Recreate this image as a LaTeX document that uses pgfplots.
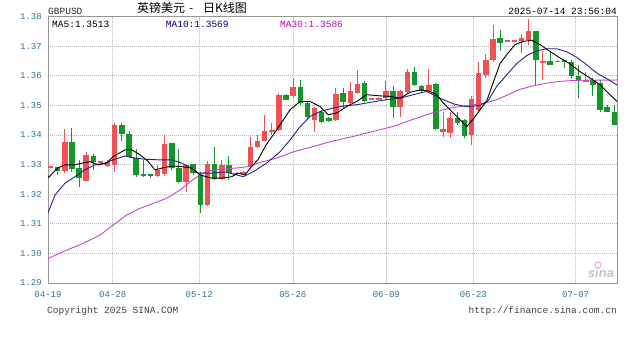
\documentclass[border=0pt]{standalone}
\usepackage{fontspec}
\usepackage{pgfplots}
\pgfplotsset{compat=1.18}
\usepackage{pgfplotstable}
\setmainfont{Liberation Sans}
\setsansfont{Liberation Sans}
\setmonofont{Liberation Mono}
\newfontfamily\cjk{Noto Sans CJK SC}

\definecolor{upred}{RGB}{238,82,82}
\definecolor{downgreen}{RGB}{20,150,40}
\definecolor{maten}{RGB}{35,35,140}
\definecolor{mathirty}{RGB}{200,70,210}
\definecolor{labthirty}{RGB}{204,0,204}
\definecolor{labten}{RGB}{0,0,128}
\definecolor{tickblue}{RGB}{50,115,150}
\definecolor{gridgray}{RGB}{185,185,185}
\definecolor{bordergray}{RGB}{150,150,150}

% up (red) candles: index open high low close
\pgfplotstableread{
k o h l c
0 1.3291 1.3296 1.3288 1.3293
2 1.3279 1.3421 1.3271 1.3376
5 1.3246 1.3344 1.3245 1.3333
7 1.3308 1.3313 1.3305 1.3310
8 1.3296 1.3314 1.3293 1.3310
9 1.3299 1.3442 1.3276 1.3434
15 1.3262 1.3299 1.3259 1.3282
16 1.3267 1.3400 1.3262 1.3369
19 1.3242 1.3300 1.3209 1.3299
22 1.3163 1.3313 1.3161 1.3302
24 1.3251 1.3316 1.3249 1.3299
26 1.3268 1.3275 1.3265 1.3272
27 1.3270 1.3280 1.3266 1.3274
28 1.3295 1.3394 1.3292 1.3360
29 1.3358 1.3400 1.3356 1.3380
30 1.3380 1.3468 1.3378 1.3414
31 1.3412 1.3440 1.3400 1.3415
32 1.3417 1.3541 1.3414 1.3536
34 1.3530 1.3594 1.3524 1.3562
37 1.3451 1.3496 1.3411 1.3491
40 1.3451 1.3558 1.3448 1.3538
42 1.3508 1.3579 1.3504 1.3547
43 1.3541 1.3620 1.3538 1.3572
45 1.3520 1.3524 1.3518 1.3522
46 1.3519 1.3528 1.3517 1.3526
47 1.3526 1.3581 1.3519 1.3549
49 1.3496 1.3553 1.3462 1.3547
50 1.3545 1.3624 1.3541 1.3614
53 1.3547 1.3624 1.3541 1.3569
55 1.3410 1.3478 1.3394 1.3420
56 1.3406 1.3479 1.3390 1.3457
59 1.3400 1.3530 1.3366 1.3521
60 1.3485 1.3648 1.3479 1.3609
61 1.3603 1.3673 1.3592 1.3654
62 1.3654 1.3772 1.3648 1.3725
64 1.3717 1.3721 1.3715 1.3719
65 1.3718 1.3721 1.3716 1.3720
66 1.3716 1.3741 1.3677 1.3729
67 1.3722 1.3793 1.3705 1.3750
69 1.3645 1.3682 1.3586 1.3651
71 1.3647 1.3652 1.3645 1.3650
75 1.3581 1.3614 1.3580 1.3586
}\upcandles

% down (green) candles: index open high low close
\pgfplotstableread{
k o h l c
1 1.3291 1.3293 1.3265 1.3279
3 1.3376 1.3423 1.3276 1.3284
4 1.3288 1.3316 1.3225 1.3254
6 1.3330 1.3336 1.3282 1.3308
10 1.3432 1.3440 1.3378 1.3404
11 1.3403 1.3412 1.3321 1.3327
12 1.3321 1.3352 1.3259 1.3265
13 1.3268 1.3316 1.3259 1.3262
14 1.3267 1.3268 1.3255 1.3262
17 1.3372 1.3373 1.3282 1.3288
18 1.3288 1.3352 1.3239 1.3242
20 1.3301 1.3302 1.3265 1.3270
21 1.3265 1.3276 1.3135 1.3163
23 1.3302 1.3359 1.3248 1.3250
25 1.3299 1.3329 1.3248 1.3271
33 1.3536 1.3537 1.3517 1.3519
35 1.3562 1.3586 1.3502 1.3508
36 1.3508 1.3513 1.3457 1.3462
38 1.3479 1.3485 1.3442 1.3445
39 1.3459 1.3462 1.3445 1.3448
41 1.3541 1.3558 1.3491 1.3513
44 1.3575 1.3583 1.3511 1.3515
48 1.3549 1.3564 1.3457 1.3496
51 1.3614 1.3631 1.3564 1.3569
52 1.3564 1.3569 1.3543 1.3547
54 1.3571 1.3575 1.3417 1.3421
57 1.3457 1.3479 1.3434 1.3440
58 1.3451 1.3453 1.3390 1.3395
63 1.3729 1.3756 1.3682 1.3711
68 1.3750 1.3752 1.3564 1.3654
70 1.3651 1.3682 1.3635 1.3637
72 1.3650 1.3654 1.3626 1.3648
73 1.3648 1.3654 1.3593 1.3598
74 1.3598 1.3637 1.3524 1.3581
76 1.3586 1.3592 1.3530 1.3569
77 1.3575 1.3586 1.3479 1.3485
78 1.3496 1.3502 1.3476 1.3479
79 1.3479 1.3502 1.3432 1.3434
}\downcandles

\pgfplotsset{
  candlepart/.style n args={2}{draw=none, mark=none, forget plot,
    error bars/.cd, y dir=both, y explicit, error mark=none,
    error bar style={draw=#1, line width=#2, solid}},
}

\begin{document}
\begin{tikzpicture}[x=1pt,y=1pt]
\path[use as bounding box, fill=white] (0,0) rectangle (627,342);
\begin{axis}[
  at={(48pt,59pt)}, anchor=south west,
  scale only axis, width=569pt, height=266.5pt,
  xmin=-0.35, xmax=79.37, ymin=1.29, ymax=1.38,
  axis line style={draw=bordergray, line width=0.9pt},
  xtick={-0.35,8.72,20.83,33.95,47.05,59.24,73.57},
  xticklabels={04-19,04-28,05-12,05-26,06-09,06-23,07-07},
  ytick={1.29,1.30,1.31,1.32,1.33,1.34,1.35,1.36,1.37,1.38},
  yticklabels={1.29,1.30,1.31,1.32,1.33,1.34,1.35,1.36,1.37,1.38},
  scaled y ticks=false, scaled x ticks=false,
  grid=major,
  major grid style={draw=gridgray, dash pattern=on 1pt off 1pt, line width=0.6pt},
  major tick length=0pt, tick style={draw=none},
  ticklabel style={font=\ttfamily\fontsize{9}{10}\selectfont, text=tickblue, inner sep=0pt},
  x tick label style={anchor=north},
  y tick label style={anchor=east},
  xticklabel shift=8pt,
  yticklabel shift=6pt,
  clip=true,
]
% wicks
\addplot[candlepart={upred}{1pt}]
  table[x=k, y expr={(\thisrow{h}+\thisrow{l})/2}, y error expr={(\thisrow{h}-\thisrow{l})/2}]{\upcandles};
\addplot[candlepart={downgreen}{1pt}]
  table[x=k, y expr={(\thisrow{h}+\thisrow{l})/2}, y error expr={(\thisrow{h}-\thisrow{l})/2}]{\downcandles};
% bodies
\addplot[candlepart={upred}{5.5pt}]
  table[x=k, y expr={(\thisrow{o}+\thisrow{c})/2}, y error expr={max(abs(\thisrow{c}-\thisrow{o})/2,0.00025)}]{\upcandles};
\addplot[candlepart={downgreen}{5.5pt}]
  table[x=k, y expr={(\thisrow{o}+\thisrow{c})/2}, y error expr={max(abs(\thisrow{c}-\thisrow{o})/2,0.00025)}]{\downcandles};
% MA30
\addplot[mathirty, line width=0.9pt, mark=none] coordinates {
(-0.35,1.2983)(2.27,1.3011)(4.60,1.3034)(6.94,1.3062)(8.80,1.3096)(10.68,1.3130)(12.54,1.3152)(14.40,1.3169)(16.28,1.3186)(18.14,1.3214)(20.01,1.3250)(21.41,1.3271)(22.81,1.3282)(24.45,1.3285)(26.31,1.3289)(27.95,1.3294)(29.35,1.3307)(31.69,1.3322)(34.02,1.3343)(36.82,1.3361)(39.62,1.3380)(42.43,1.3395)(45.23,1.3412)(48.03,1.3429)(50.83,1.3453)(53.64,1.3476)(56.44,1.3493)(58.78,1.3500)(61.12,1.3509)(62.52,1.3519)(63.92,1.3534)(65.78,1.3554)(67.65,1.3566)(69.52,1.3575)(71.39,1.3581)(73.25,1.3584)(75.13,1.3585)(76.99,1.3585)(78.86,1.3585)(79.37,1.3586)
};
% MA10
\addplot[maten, line width=0.9pt, mark=none] coordinates {
(-0.35,1.3137)(0.63,1.3197)(2.03,1.3237)(3.43,1.3259)(4.83,1.3282)(6.24,1.3299)(7.64,1.3305)(9.04,1.3318)(10.44,1.3329)(11.60,1.3323)(13.24,1.3318)(15.10,1.3316)(16.98,1.3316)(18.38,1.3305)(19.78,1.3288)(20.71,1.3271)(22.59,1.3271)(24.45,1.3275)(26.09,1.3265)(27.01,1.3259)(28.42,1.3276)(30.29,1.3305)(32.15,1.3343)(33.56,1.3383)(34.96,1.3428)(36.36,1.3462)(37.76,1.3479)(39.62,1.3491)(41.03,1.3498)(42.90,1.3502)(44.77,1.3510)(47.11,1.3519)(48.97,1.3524)(50.83,1.3536)(52.71,1.3547)(54.57,1.3524)(56.44,1.3505)(58.32,1.3495)(60.18,1.3500)(61.30,1.3515)(62.52,1.3564)(63.92,1.3603)(65.32,1.3641)(66.72,1.3668)(68.12,1.3684)(69.52,1.3691)(70.93,1.3691)(72.33,1.3681)(73.73,1.3662)(75.13,1.3637)(76.53,1.3609)(77.93,1.3590)(79.37,1.3569)
};
% MA5
\addplot[black, line width=0.9pt, mark=none] coordinates {
(-0.35,1.3255)(1.05,1.3289)(2.03,1.3299)(3.43,1.3299)(4.41,1.3305)(5.53,1.3310)(6.70,1.3299)(7.87,1.3305)(8.80,1.3327)(10.44,1.3350)(11.38,1.3350)(12.54,1.3333)(13.70,1.3310)(14.64,1.3282)(15.58,1.3288)(16.98,1.3295)(18.38,1.3293)(19.78,1.3288)(20.95,1.3265)(22.59,1.3254)(23.99,1.3254)(25.39,1.3259)(26.27,1.3271)(27.25,1.3265)(28.23,1.3295)(29.07,1.3316)(30.19,1.3366)(31.69,1.3417)(33.56,1.3485)(34.96,1.3513)(36.36,1.3513)(37.76,1.3496)(38.92,1.3468)(40.10,1.3474)(41.50,1.3496)(42.90,1.3513)(44.30,1.3536)(46.17,1.3532)(47.57,1.3530)(48.97,1.3524)(50.37,1.3544)(51.77,1.3552)(53.17,1.3547)(54.11,1.3536)(55.04,1.3508)(55.98,1.3485)(57.14,1.3457)(58.32,1.3428)(59.24,1.3454)(60.18,1.3485)(61.12,1.3515)(62.04,1.3578)(62.98,1.3641)(63.92,1.3671)(65.08,1.3705)(66.25,1.3716)(67.42,1.3720)(68.59,1.3705)(69.99,1.3682)(71.39,1.3660)(72.79,1.3640)(74.19,1.3614)(75.59,1.3592)(76.99,1.3569)(78.39,1.3536)(79.37,1.3513)
};
\end{axis}
% texts around the chart
\node[anchor=west, inner sep=0pt, font=\ttfamily\fontsize{9.5}{10}\selectfont, text=black!85] at (48,331) {GBPUSD};
\node[anchor=center, inner sep=0pt, font=\cjk\fontsize{12}{12}\selectfont, text=black] at (192,334) {英镑美元\hspace{4pt}-\hspace{10pt}日K线图};
\node[anchor=east, inner sep=0pt, font=\ttfamily\fontsize{9.5}{10}\selectfont, text=black] at (617,331) {2025-07-14 23:56:04};
\node[anchor=west, inner sep=0pt, font=\ttfamily\fontsize{9.5}{10}\selectfont, text=black] at (52,318) {MA5:1.3513};
\node[anchor=west, inner sep=0pt, font=\ttfamily\fontsize{9.5}{10}\selectfont, text=labten] at (165.7,318) {MA10:1.3569};
\node[anchor=west, inner sep=0pt, font=\ttfamily\fontsize{9.5}{10}\selectfont, text=labthirty] at (280,318) {MA30:1.3586};
\node[anchor=west, inner sep=0pt, font=\ttfamily\fontsize{9.5}{10}\selectfont, text=black!75] at (47,31) {Copyright 2025 SINA.COM};
\node[anchor=east, inner sep=0pt, font=\ttfamily\fontsize{9.5}{10}\selectfont, text=black!75] at (617,31) {http://finance.sina.com.cn};
% watermark
\node[inner sep=0pt, font=\sffamily\bfseries\itshape\fontsize{13}{13}\selectfont, text=gray!45] at (601,69) {sina};
\draw[red!35, line width=1pt] (598,77) circle (3pt);
\end{tikzpicture}
\end{document}
